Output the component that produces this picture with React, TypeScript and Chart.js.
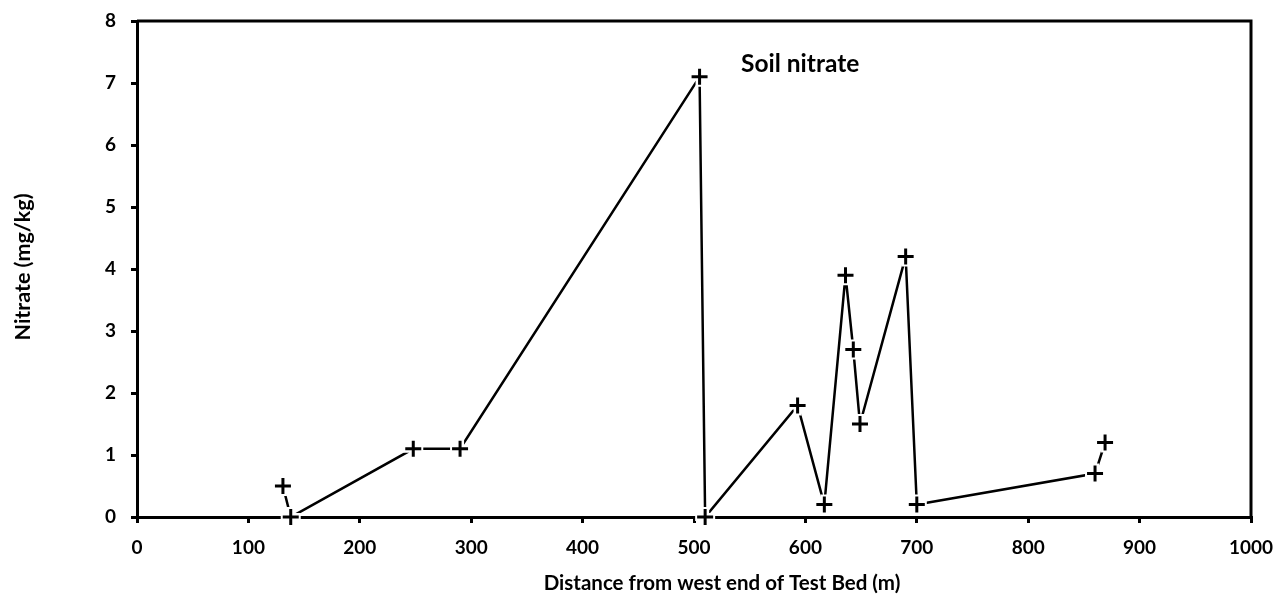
import React, { useEffect, useRef } from "react";
import { Chart, registerables } from "chart.js";

Chart.register(...registerables);

const distance = [131, 138, 248, 290, 505, 510, 593, 617, 636, 643, 649, 690, 700, 860, 869];
const nitrate = [0.5, 0, 1.1, 1.1, 7.1, 0, 1.8, 0.2, 3.9, 2.7, 1.5, 4.2, 0.2, 0.7, 1.2];
const xTicks = [0, 100, 200, 300, 400, 500, 600, 700, 800, 900, 1000];
const yTicks = [0, 1, 2, 3, 4, 5, 6, 7, 8];
const chartTitle = "Soil nitrate";
const xTitle = "Distance from west end of Test Bed (m)";
const yTitle = "Nitrate (mg/kg)";

const FONT = "Lato, 'Open Sans', sans-serif";

export default function App() {
  const ref = useRef<HTMLCanvasElement | null>(null);

  useEffect(() => {
    if (!ref.current) return;
    const pts = distance.map((x, i) => ({ x, y: nitrate[i] }));

    const boxPlugin = {
      id: "boxPlugin",
      beforeDatasetsDraw(chart: any) {
        const { ctx, chartArea } = chart;
        ctx.save();
        ctx.strokeStyle = "#000";
        ctx.lineWidth = 3;
        ctx.beginPath();
        ctx.moveTo(chartArea.left, chartArea.top);
        ctx.lineTo(chartArea.right, chartArea.top);
        ctx.lineTo(chartArea.right, chartArea.bottom);
        ctx.stroke();
        ctx.restore();
      },
      afterDraw(chart: any) {
        const { ctx } = chart;
        ctx.save();
        ctx.fillStyle = "#000";
        ctx.textBaseline = "middle";
        ctx.textAlign = "left";
        ctx.font = `bold 24.5px ${FONT}`;
        ctx.fillText(chartTitle, 741, 64);
        ctx.textAlign = "center";
        ctx.font = `bold 20.5px ${FONT}`;
        ctx.fillText(xTitle, 722, 583);
        ctx.translate(23, 267);
        ctx.rotate(-Math.PI / 2);
        ctx.font = `bold 21.5px ${FONT}`;
        ctx.fillText(yTitle, 0, 0);
        ctx.restore();
      },
    };

    const chart = new Chart(ref.current, {
      type: "scatter",
      data: {
        datasets: [
          {
            label: "line",
            data: pts,
            showLine: true,
            borderColor: "#000",
            borderWidth: 2.5,
            pointRadius: 0,
            order: 3,
            clip: false as any,
          },
          {
            label: "halo",
            data: pts,
            showLine: false,
            pointStyle: "cross",
            pointRadius: 10,
            pointBorderWidth: 8,
            pointBorderColor: "#fff",
            pointBackgroundColor: "#fff",
            order: 2,
            clip: false as any,
          },
          {
            label: "Soil nitrate",
            data: pts,
            showLine: false,
            pointStyle: "cross",
            pointRadius: 8,
            pointBorderWidth: 3,
            pointBorderColor: "#000",
            pointBackgroundColor: "#000",
            order: 1,
            clip: false as any,
          },
        ],
      },
      options: {
        animation: false,
        responsive: true,
        maintainAspectRatio: false,
        layout: { padding: { top: 21, right: 36, left: 0, bottom: 0 } },
        plugins: {
          legend: { display: false },
          tooltip: { enabled: false },
          title: { display: false },
        },
        scales: {
          x: {
            type: "linear",
            min: 0,
            max: 1000,
            afterBuildTicks: (scale: any) => {
              scale.ticks = xTicks.map((v) => ({ value: v }));
            },
            afterFit: (scale: any) => {
              scale.height = 89;
              scale.paddingLeft = 0;
              scale.paddingRight = 0;
            },
            ticks: {
              color: "#000",
              font: { family: FONT, size: 19, weight: "bold" },
              padding: 13,
              callback: (v: any) => String(v),
            },
            grid: {
              display: true,
              drawOnChartArea: false,
              drawTicks: true,
              tickLength: 6,
              color: "#000",
              lineWidth: 3,
            },
            border: { display: true, color: "#000", width: 3 },
            title: { display: false },
          },
          y: {
            type: "linear",
            min: 0,
            max: 8,
            afterBuildTicks: (scale: any) => {
              scale.ticks = yTicks.map((v) => ({ value: v }));
            },
            afterFit: (scale: any) => {
              scale.width = 137;
              scale.paddingTop = 0;
              scale.paddingBottom = 0;
            },
            ticks: {
              color: "#000",
              font: { family: FONT, size: 19, weight: "bold" },
              padding: 15,
              callback: (v: any) => String(v),
            },
            grid: {
              display: true,
              drawOnChartArea: false,
              drawTicks: true,
              tickLength: 6,
              color: "#000",
              lineWidth: 3,
            },
            border: { display: true, color: "#000", width: 3 },
            title: { display: false },
          },
        },
      },
      plugins: [boxPlugin],
    });

    return () => chart.destroy();
  }, []);

  return (
    <div style={{ position: "fixed", left: 0, top: 0, width: 1287, height: 606, background: "#fff" }}>
      <canvas ref={ref} />
    </div>
  );
}
